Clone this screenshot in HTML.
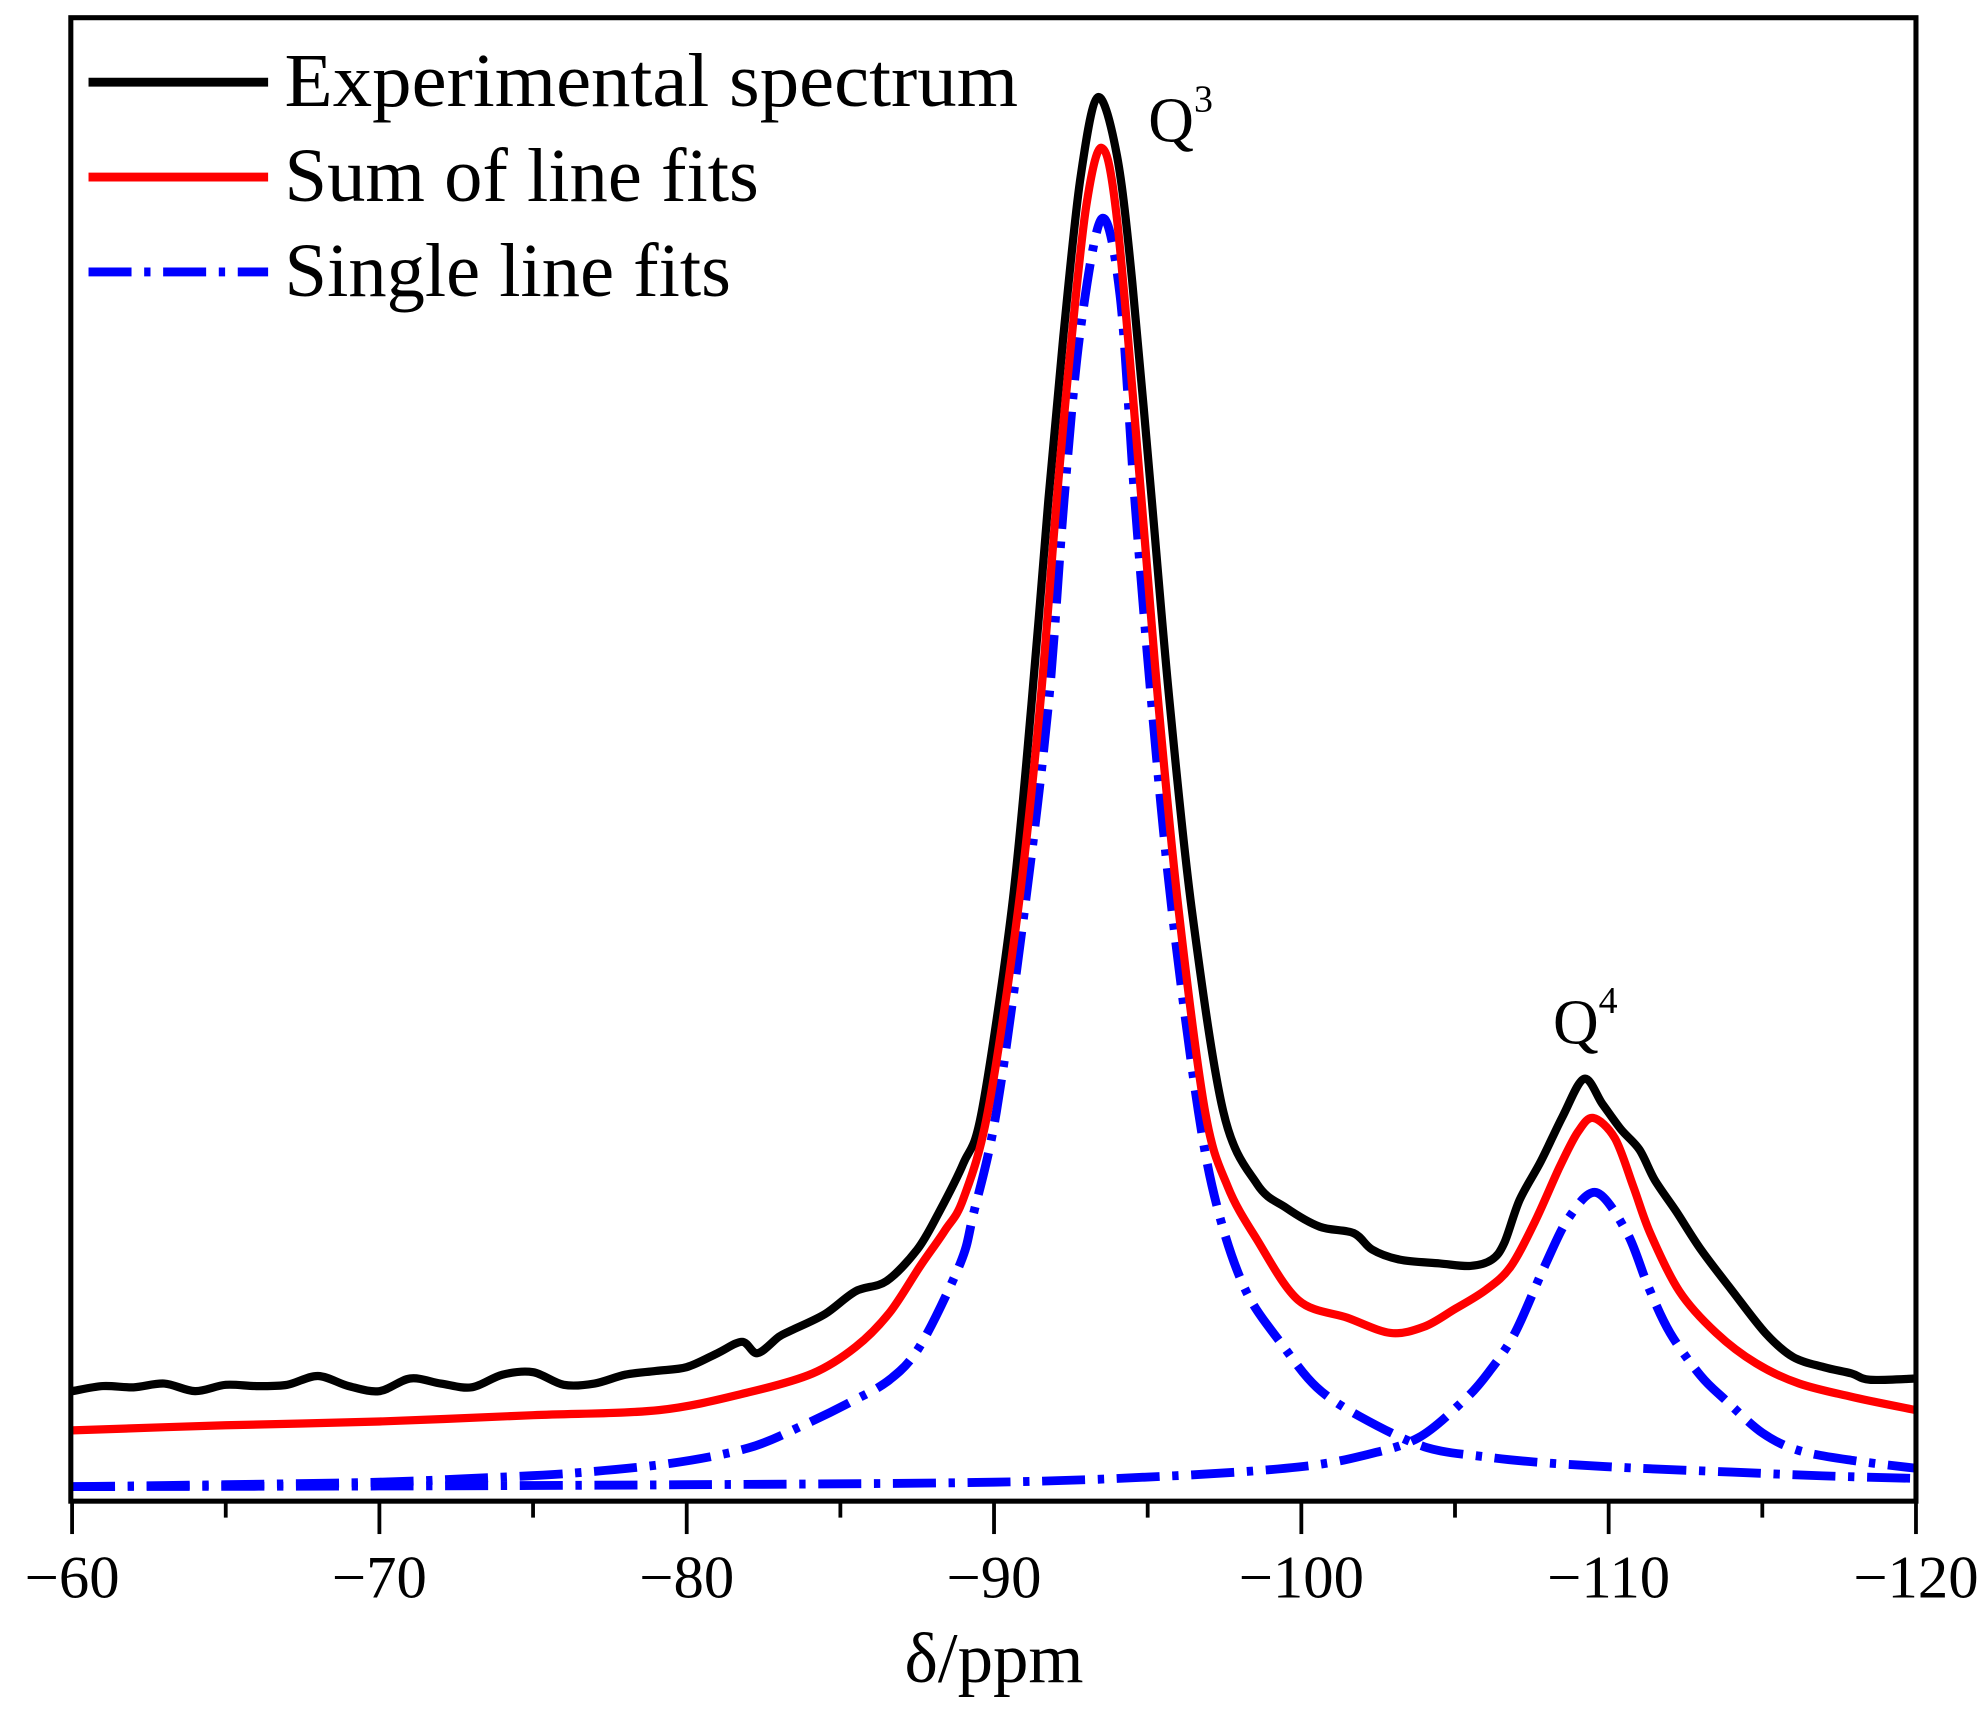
<!DOCTYPE html>
<html><head><meta charset="utf-8"><style>
html,body{margin:0;padding:0;background:#fff;}
svg{display:block;}
text{font-family:"Liberation Serif",serif;fill:#000;}
</style></head><body>
<svg id="chart" width="1983" height="1713" viewBox="0 0 1568 1354.5" preserveAspectRatio="none" xmlns="http://www.w3.org/2000/svg">
<rect x="0" y="0" width="1568" height="1355" fill="#fff"/>
<g id="series"></g>
<rect x="56" y="14" width="1459" height="1173" fill="none" stroke="#000" stroke-width="4"/>
<g id="xaxis"></g>
<text x="786" y="1330" font-size="56" text-anchor="middle">δ/ppm</text>
<text x="908" y="112" font-size="50">Q<tspan font-size="30" dy="-24">3</tspan></text>
<text x="1228" y="825" font-size="50">Q<tspan font-size="30" dy="-24">4</tspan></text>
<g>
<line x1="70" y1="65" x2="212" y2="65" stroke="#000" stroke-width="7"/>
<text x="225" y="84" font-size="60" textLength="580" lengthAdjust="spacingAndGlyphs">Experimental  spectrum</text>
<line x1="70" y1="140" x2="212" y2="140" stroke="#f00" stroke-width="7"/>
<text x="225" y="159" font-size="60" textLength="375" lengthAdjust="spacingAndGlyphs">Sum of line fits</text>
<line x1="70" y1="215" x2="212" y2="215" stroke="#00f" stroke-width="7" stroke-dasharray="34 10 5 10"/>
<text x="225" y="234" font-size="60" textLength="353" lengthAdjust="spacingAndGlyphs">Single line fits</text>
</g>
</svg>
<script>
const expPpm=[-60,-61,-62,-63,-64,-65,-66,-67,-68,-69,-70,-71,-72,-73,-74,-75,-76,-77,-78,-79,-80,-81,-81.8,-82.3,-83,-83.4,-84.5,-85.5,-86.5,-87.5,-88.2,-89.0,-89.6,-90.58,-91.22,-91.77,-92.25,-92.8,-93.37,-94,-94.5,-95.13,-95.72,-96.43,-97.46,-98.55,-99.5,-100.6,-101.7,-102.3,-103.2,-104.5,-105.5,-106.2,-106.6,-107.1,-107.8,-108.5,-109.2,-109.8,-110.4,-111,-111.5,-112.2,-113,-114,-115.1,-116,-117,-117.9,-118.5,-120];
const expVal=[8.3,8.7,8.6,8.9,8.3,8.8,8.7,8.8,9.5,8.7,8.3,9.3,8.9,8.6,9.6,9.8,8.8,8.9,9.6,9.9,10.2,11.3,12.2,11.3,12.6,13.1,14.4,16.2,17,19.5,22.4,26.3,30.4,46.5,62.6,78.8,91.6,104,110.6,106,96,78.8,62.6,46.5,30.4,24.7,22.8,21.3,20.8,19.5,18.7,18.4,18.2,18.7,20,23.4,26.5,30,33,31,29,27.4,25,22.5,19.5,16.3,12.9,11,10.2,9.7,9.2,9.3];
const sumPpm=[-60,-65,-70,-75,-79.1,-82,-84.1,-85.5,-86.6,-87.6,-88.4,-89.0,-89.8,-90.79,-91.5,-92.04,-92.5,-93,-93.5,-94,-94.8,-95.35,-96,-96.87,-97.6,-98.55,-99.9,-101.5,-102.9,-104,-105,-106,-106.8,-107.6,-108.4,-109,-109.5,-110.2,-110.8,-111.35,-112.3,-113.5,-114.8,-116.2,-118,-120];
const sumVal=[5.2,5.6,5.9,6.4,6.8,8.2,9.7,11.8,14.5,18.2,21,23.5,30.4,46.5,62.6,78.8,91,102,106.6,101,78.8,62.6,46.5,30.4,24.5,20.3,15.5,14.1,12.9,13.4,14.8,16.3,18.1,21.7,26,28.8,29.9,28.3,24.5,20.8,16.2,12.9,10.5,8.9,7.8,6.8];
const fit1Ppm=[-60,-65,-70,-73,-76.2,-79.5,-82,-83.7,-85.3,-86.6,-87.6,-88.9,-89.33,-90.08,-91,-91.77,-92.28,-92.8,-93.5,-94.1,-94.58,-95.13,-95.78,-96.65,-97.3,-98.2,-99.4,-100.5,-101.9,-104,-106,-108.1,-111,-114,-117,-120];
const fit1Val=[0.75,0.9,1.1,1.4,1.8,2.6,3.8,5.5,7.4,9.2,11.9,18.4,22.3,30.4,46.5,62.6,78.8,92,101,95,78.8,62.6,46.5,30.4,22.5,16.2,11.9,8.6,6.3,3.9,3.1,2.6,2.2,1.9,1.6,1.4];
const fit2Ppm=[-60,-70,-80,-90,-95.8,-99.9,-102,-103.8,-105.3,-106.1,-106.95,-107.9,-108.7,-109.6,-110.6,-111.3,-112,-113,-113.8,-115,-116.2,-118,-120];
const fit2Val=[0.75,0.8,0.9,1.1,1.6,2.3,3.2,4.6,7.6,9.8,12.9,18.1,22,24,20.8,16.5,12.9,9.5,7.6,5,3.6,2.8,2.2];
const xTicks=[-60,-70,-80,-90,-100,-110,-120];
const xTickLabels=["\u221260","\u221270","\u221280","\u221290","\u2212100","\u2212110","\u2212120"];
const xMinor=[-65,-75,-85,-95,-105,-115];

const NS="http://www.w3.org/2000/svg";
const X0=57,X1=1515,YB=1183;
function xs(p){return X0+(p-(-60))/(-120-(-60))*(X1-X0);}
function ys(v){return YB-v*10;}
function mkPath(ppm,val,color,dash,name){
  const p=document.createElementNS(NS,'path');
  
  
  const pts=ppm.map((q,i)=>[xs(q),ys(val[i])]);
  let d='M'+pts[0][0].toFixed(1)+' '+pts[0][1].toFixed(1);
  for(let i=0;i<pts.length-1;i++){
    const p0=pts[Math.max(0,i-1)],p1=pts[i],p2=pts[i+1],p3=pts[Math.min(pts.length-1,i+2)];
    const t=0.16;
    const c1x=p1[0]+(p2[0]-p0[0])*t,c1y=p1[1]+(p2[1]-p0[1])*t;
    const c2x=p2[0]-(p3[0]-p1[0])*t,c2y=p2[1]-(p3[1]-p1[1])*t;
    d+='C'+c1x.toFixed(1)+' '+c1y.toFixed(1)+' '+c2x.toFixed(1)+' '+c2y.toFixed(1)+' '+p2[0].toFixed(1)+' '+p2[1].toFixed(1);
  }
  p.setAttribute('d',d);
  p.setAttribute('fill','none');p.setAttribute('stroke',color);
  p.setAttribute('stroke-width',dash?'7':'6.5');p.setAttribute('stroke-linejoin','round');
  if(dash)p.setAttribute('stroke-dasharray',dash);
  document.getElementById('series').appendChild(p);
}
mkPath(fit1Ppm,fit1Val,'#00f','34 10 5 10','single-fit-q3');
mkPath(fit2Ppm,fit2Val,'#00f','34 10 5 10','single-fit-q4');
mkPath(expPpm,expVal,'#000',null,'experimental-spectrum-line');
mkPath(sumPpm,sumVal,'#f00',null,'sum-of-fits-line');
const ax=document.getElementById('xaxis');
xTicks.forEach((t,i)=>{
  const l=document.createElementNS(NS,'line');
  
  
  l.setAttribute('x1',xs(t));l.setAttribute('x2',xs(t));l.setAttribute('y1',1187);l.setAttribute('y2',1213);
  l.setAttribute('stroke','#000');l.setAttribute('stroke-width','3');ax.appendChild(l);
  const tx=document.createElementNS(NS,'text');
  
  
  tx.setAttribute('x',xs(t));tx.setAttribute('y',1263);tx.setAttribute('font-size','48');tx.setAttribute('text-anchor','middle');
  tx.textContent=xTickLabels[i];ax.appendChild(tx);
});
xMinor.forEach(t=>{
  const l=document.createElementNS(NS,'line');
  
  
  l.setAttribute('x1',xs(t));l.setAttribute('x2',xs(t));l.setAttribute('y1',1187);l.setAttribute('y2',1200);
  l.setAttribute('stroke','#000');l.setAttribute('stroke-width','3');ax.appendChild(l);
});
</script>
</body></html>
